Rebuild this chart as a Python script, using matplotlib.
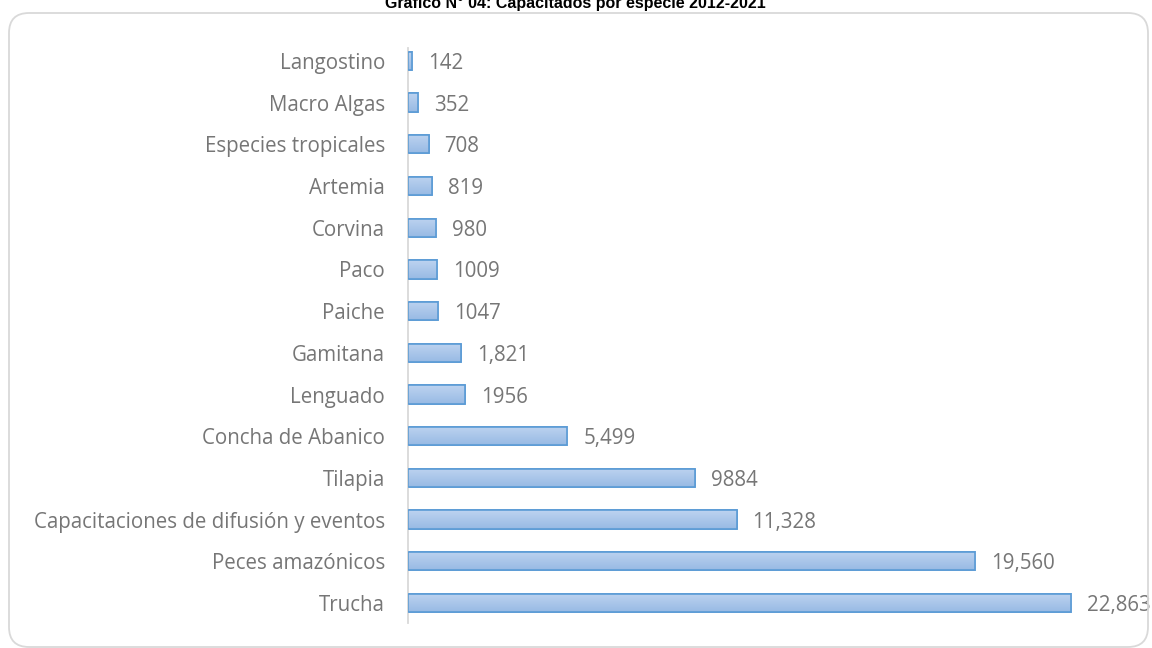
import numpy as np
import matplotlib
matplotlib.use("Agg")
from matplotlib import pyplot as plt
from matplotlib.patches import FancyBboxPatch

# data, top to bottom as shown
especies = ["Langostino", "Macro Algas", "Especies tropicales", "Artemia", "Corvina",
            "Paco", "Paiche", "Gamitana", "Lenguado", "Concha de Abanico", "Tilapia",
            "Capacitaciones de difusión y eventos", "Peces amazónicos", "Trucha"]
valores = [142, 352, 708, 819, 980, 1009, 1047, 1821, 1956, 5499, 9884, 11328, 19560, 22863]
etiquetas = ["142", "352", "708", "819", "980", "1009", "1047", "1,821", "1956",
             "5,499", "9884", "11,328", "19,560", "22,863"]
titulo = "Gráfico N° 04: Capacitados por especie 2012-2021"

W, H = 1152, 648
gris = "#767676"
fig = plt.figure(figsize=(W/100, H/100), dpi=100)

# rounded chart border
border = FancyBboxPatch((9/W, 1/H), (1139/W), (634/H),
                        boxstyle="round,pad=0,rounding_size=%f" % (20/W),
                        transform=fig.transFigure, fill=False,
                        edgecolor="#d9d9d9", linewidth=1.3, mutation_aspect=W/H)
fig.patches.append(border)

fig.text(575/W, 1 - 3/H, titulo, ha="center", va="center",
         fontsize=11.5, fontweight="bold", family="Liberation Sans", color="black")

ax = fig.add_axes([408/W, 1 - 623/H, (1075-408)/W, (623-48)/H])
y = np.arange(len(especies))
bars = ax.barh(y, valores, height=0.44, color="#aac7eb", edgecolor="#5b9bd5",
               linewidth=1.2, zorder=2)

# vertical gradient in each bar
grad = np.linspace(0, 1, 64).reshape(-1, 1)
cmap = matplotlib.colors.LinearSegmentedColormap.from_list("g", ["#bdd3f0", "#98bae4"])
for b in bars:
    x0, y0 = b.get_x(), b.get_y()
    im = ax.imshow(grad, cmap=cmap, aspect="auto", zorder=2.5,
                   extent=(x0, x0 + b.get_width(), y0 + b.get_height(), y0))
    im.set_clip_path(b)
    ax.add_patch(plt.Rectangle((x0, y0), b.get_width(), b.get_height(), fill=False,
                               edgecolor="#5b9bd5", linewidth=1.2, zorder=3))

for yi, v, t in zip(y, valores, etiquetas):
    ax.annotate(t, (v, yi), xytext=(11.5, 0), textcoords="offset points",
                va="center_baseline", ha="left", fontsize=14.8, color=gris,
                family="Open Sans")

ax.set_xlim(0, 23000)
ax.set_ylim(13.48, -0.31)
ax.set_yticks(y)
ax.set_yticklabels(especies, fontsize=14.8, color=gris, family="Open Sans",
                   va="center_baseline")
ax.tick_params(axis="y", length=0, pad=16.5)
ax.set_xticks([])
for s in ["top", "right", "bottom"]:
    ax.spines[s].set_visible(False)
ax.spines["left"].set_color("#d9d9d9")
ax.spines["left"].set_linewidth(1.3)
ax.patch.set_alpha(0)

fig.savefig("out.png", dpi=100)
